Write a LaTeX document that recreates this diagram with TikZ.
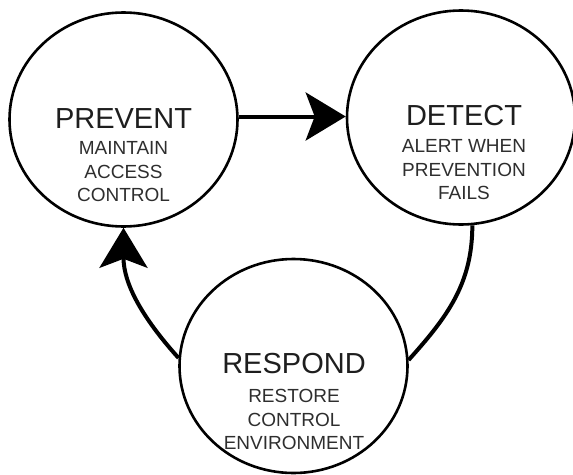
\documentclass[tikz,border=0pt]{standalone}
\usepackage{fontspec}
\setmainfont{Liberation Sans}
\usetikzlibrary{shapes.geometric,arrows.meta}

\definecolor{titleink}{HTML}{1E1E1E}
\definecolor{subink}{HTML}{2E2E2E}

\tikzset{
  phase/.style={draw=black, line width=2.6pt, ellipse, inner sep=0pt,
    minimum width=228pt, minimum height=214pt},
  phasetitle/.style={anchor=base, inner sep=0pt, text=titleink,
    font=\fontsize{29}{32}\selectfont},
  phasenote/.style={anchor=north, inner sep=0pt, align=center, text=subink,
    font=\fontsize{19}{23.5}\selectfont},
  flow/.style={line width=4pt, -{Stealth[length=40pt, width=48pt, inset=9pt]}},
  link/.style={line width=4pt}
}

\begin{document}
\begin{tikzpicture}[x=1pt, y=-1pt]
  \useasboundingbox (0,0) rectangle (573,474);

  % the three phases of the cycle
  \node[phase] (prevent) at (123.5,119.5) {};
  \node[phase] (detect)  at (461,117.5) {};
  \node[phase] (respond) at (293.5,366) {};

  % titles and descriptions
  \node[phasetitle] (preventT) at (123.5,128) {PREVENT};
  \node[phasenote]  (preventN) at (123.5,141.5) {MAINTAIN\\ACCESS\\CONTROL};

  \node[phasetitle] (detectT) at (464,125) {DETECT};
  \node[phasenote]  (detectN) at (464,139.5) {ALERT WHEN\\PREVENTION\\FAILS};

  \node[phasetitle] (respondT) at (294,373) {RESPOND};
  \node[phasenote]  (respondN) at (294,389.5) {RESTORE\\CONTROL\\ENVIRONMENT};

  % connectors
  \draw[flow] ([yshift=3pt]prevent.east) -- ([yshift=1pt]detect.west);
  \draw[link] (detect.-84) to[out=-90, in=48] (respond.3);
  \draw[flow] (respond.176) to[out=132, in=-90] (prevent.south);
\end{tikzpicture}
\end{document}
